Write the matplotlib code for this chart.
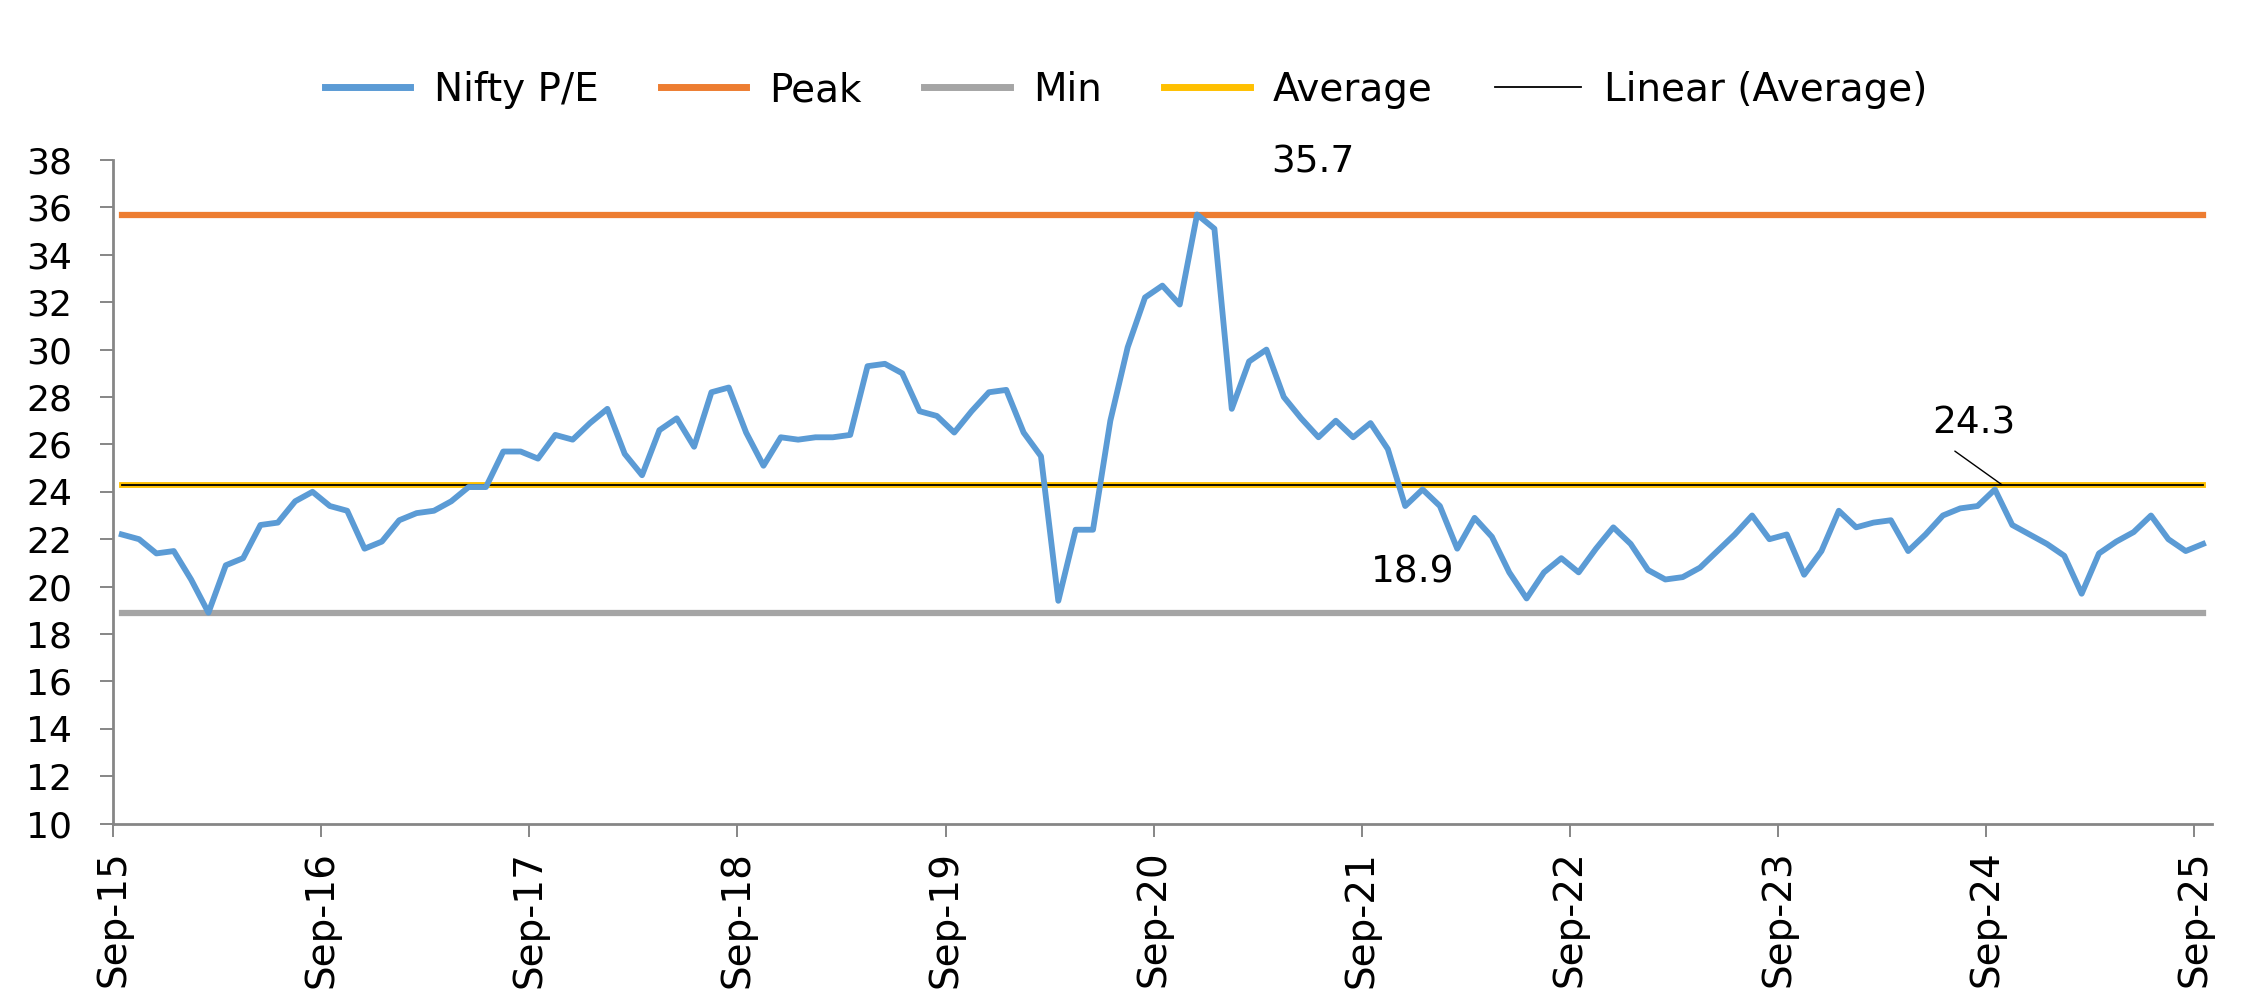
import numpy as np
import matplotlib
matplotlib.use('Agg')
import matplotlib.pyplot as plt

plt.rcParams['font.family'] = ['DejaVu Sans']

# monthly Nifty P/E, Sep-15 .. Sep-25
pe = [22.2, 22.0, 21.4, 21.5, 20.3, 18.9, 20.9, 21.2, 22.6, 22.7, 23.6, 24.0,
      23.4, 23.2, 21.6, 21.9, 22.8, 23.1, 23.2, 23.6, 24.2, 24.2, 25.7, 25.7,
      25.4, 26.4, 26.2, 26.9, 27.5, 25.6, 24.7, 26.6, 27.1, 25.9, 28.2, 28.4,
      26.5, 25.1, 26.3, 26.2, 26.3, 26.3, 26.4, 29.3, 29.4, 29.0, 27.4, 27.2,
      26.5, 27.4, 28.2, 28.3, 26.5, 25.5, 19.4, 22.4, 22.4, 27.0, 30.1, 32.2,
      32.7, 31.9, 35.7, 35.1, 27.5, 29.5, 30.0, 28.0, 27.1, 26.3, 27.0, 26.3,
      26.9, 25.8, 23.4, 24.1, 23.4, 21.6, 22.9, 22.1, 20.6, 19.5, 20.6, 21.2,
      20.6, 21.6, 22.5, 21.8, 20.7, 20.3, 20.4, 20.8, 21.5, 22.2, 23.0, 22.0,
      22.2, 20.5, 21.5, 23.2, 22.5, 22.7, 22.8, 21.5, 22.2, 23.0, 23.3, 23.4,
      24.1, 22.6, 22.2, 21.8, 21.3, 19.7, 21.4, 21.9, 22.3, 23.0, 22.0, 21.5,
      21.8]
peak = 35.7
low = 18.9
avg = 24.3
tick_labels = ['Sep-15', 'Sep-16', 'Sep-17', 'Sep-18', 'Sep-19', 'Sep-20',
               'Sep-21', 'Sep-22', 'Sep-23', 'Sep-24', 'Sep-25']

n = len(pe)
x = np.arange(n) + 0.5   # points sit between the month tick marks

fig = plt.figure(figsize=(22.61, 10), dpi=100)
ax = fig.add_axes([0.05, 0.1764, 0.9282, 0.6636])

ax.plot(x, pe, color='#5B9BD5', lw=4.2, label='Nifty P/E', zorder=5)
ax.plot(x, [peak]*n, color='#ED7D31', lw=4.5, label='Peak', zorder=3)
ax.plot(x, [low]*n, color='#A5A5A5', lw=4.5, label='Min', zorder=3)
ax.plot(x, [avg]*n, color='#FFC000', lw=4.2, label='Average', zorder=3)
# linear trend of a constant series
coef = np.polyfit(x, [avg]*n, 1)
ax.plot(x, np.polyval(coef, x), color='black', lw=1.3,
        label='Linear (Average)', zorder=4)

ax.set_xlim(0, n)
ax.set_ylim(10, 38)
ax.set_yticks(np.arange(10, 39, 2))
ax.set_xticks(np.arange(0, n, 12))
ax.set_xticklabels(tick_labels, rotation=90, fontsize=28)
ax.tick_params(axis='y', labelsize=26, length=9.5, width=1.4,
               color='#868686', pad=20)
ax.tick_params(axis='x', length=9.5, width=1.4, color='#868686', pad=10)

for s in ['top', 'right']:
    ax.spines[s].set_visible(False)
for s in ['left', 'bottom']:
    ax.spines[s].set_color('#868686')
    ax.spines[s].set_linewidth(2)

# value labels
ax.text(69.2, peak + 2.2, f'{peak}', fontsize=27, ha='center', va='center')
ax.text(74.9, low + 1.7, f'{low}', fontsize=27, ha='center', va='center')
ax.annotate(f'{avg}', xy=(108.9, avg), xytext=(107.3, avg + 2.6),
            fontsize=27, ha='center', va='center',
            arrowprops=dict(arrowstyle='-', color='black', lw=1,
                            relpos=(0.1, 0.0), shrinkA=9, shrinkB=0))

leg = fig.legend(loc='center', bbox_to_anchor=(0.498, 0.91), ncol=5,
                 frameon=False, fontsize=28, handlelength=2.2,
                 handletextpad=0.6, columnspacing=1.6)
for h, w in zip(leg.legend_handles, [5, 5, 5, 5, 1.3]):
    h.set_linewidth(w)

fig.savefig('out.png', dpi=100)
